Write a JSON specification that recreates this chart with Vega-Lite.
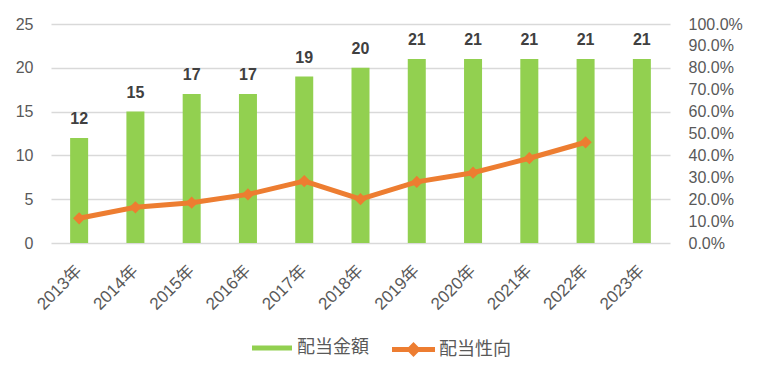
{
  "$schema": "https://vega.github.io/schema/vega-lite/v6.json",
  "width": 619,
  "height": 219,
  "autosize": {"type": "none"},
  "padding": {"left": 51, "top": 24, "right": 88, "bottom": 137},
  "background": "white",
  "config": {
    "view": {"stroke": null},
    "font": "Liberation Sans, Noto Sans CJK JP",
    "axis": {"labelFont": "Liberation Sans, Noto Sans CJK JP", "labelColor": "#595959", "labelFontSize": 16, "domain": false, "ticks": false, "tickSize": 0, "title": null},
    "legend": {"labelFont": "Noto Sans CJK JP", "labelFontSize": 18, "labelColor": "#595959", "title": null}
  },
  "data": {
    "values": [
      {"year": "2013年", "amount": 12, "payout": 0.113},
      {"year": "2014年", "amount": 15, "payout": 0.163},
      {"year": "2015年", "amount": 17, "payout": 0.184},
      {"year": "2016年", "amount": 17, "payout": 0.222},
      {"year": "2017年", "amount": 19, "payout": 0.283},
      {"year": "2018年", "amount": 20, "payout": 0.200},
      {"year": "2019年", "amount": 21, "payout": 0.279},
      {"year": "2020年", "amount": 21, "payout": 0.321},
      {"year": "2021年", "amount": 21, "payout": 0.387},
      {"year": "2022年", "amount": 21, "payout": 0.460},
      {"year": "2023年", "amount": 21, "payout": null}
    ]
  },
  "encoding": {
    "x": {
      "field": "year", "type": "nominal", "sort": null,
      "scale": {"paddingInner": 0.68, "paddingOuter": 0.34},
      "axis": {"labelAngle": -45, "labelAlign": "right", "labelBaseline": "middle", "labelPadding": 25, "labelFontSize": 17, "grid": false}
    }
  },
  "layer": [
    {
      "encoding": {
        "y": {
          "field": "amount", "type": "quantitative",
          "scale": {"domain": [0, 25], "nice": false},
          "axis": {"values": [0, 5, 10, 15, 20, 25], "grid": true, "gridColor": "#d9d9d9", "gridWidth": 1.3, "labelPadding": 18, "orient": "left"}
        }
      },
      "layer": [
        {
          "mark": {"type": "bar", "color": "#92D050"},
          "encoding": {
            "color": {
              "datum": "配当金額",
              "scale": {"domain": ["配当金額"], "range": ["#92D050"]},
              "legend": {"orient": "none", "legendX": 201, "legendY": 304, "symbolType": "M-1,-0.125L1,-0.125L1,0.125L-1,0.125Z", "symbolSize": 1600, "symbolStrokeWidth": 0, "labelOffset": 5}
            }
          }
        },
        {
          "mark": {"type": "text", "baseline": "alphabetic", "dy": -14, "fontWeight": "bold", "fontSize": 16, "color": "#404040", "font": "Liberation Sans"},
          "encoding": {"text": {"field": "amount", "type": "quantitative"}}
        }
      ]
    },
    {
      "transform": [{"filter": "datum.payout != null"}],
      "encoding": {
        "y": {
          "field": "payout", "type": "quantitative",
          "scale": {"domain": [0, 1], "nice": false},
          "axis": {"orient": "right", "values": [0, 0.1, 0.2, 0.3, 0.4, 0.5, 0.6, 0.7, 0.8, 0.9, 1.0], "format": ".1%", "grid": false, "labelPadding": 18}
        }
      },
      "layer": [
        {"mark": {"type": "line", "color": "#ED7D31", "strokeWidth": 5}},
        {
          "mark": {"type": "point", "shape": "diamond", "filled": true, "size": 150, "opacity": 1},
          "encoding": {
            "color": {
              "datum": "配当性向",
              "scale": {"domain": ["配当性向"], "range": ["#ED7D31"]},
              "legend": {"orient": "none", "legendX": 341, "legendY": 304, "symbolType": "M-1,-0.12L-0.23,-0.12L0,-0.35L0.23,-0.12L1,-0.12L1,0.12L0.23,0.12L0,0.35L-0.23,0.12L-1,0.12Z", "symbolSize": 1849, "symbolStrokeWidth": 0, "symbolOpacity": 1, "labelOffset": 4}
            }
          }
        }
      ]
    }
  ],
  "resolve": {"scale": {"y": "independent", "color": "independent"}, "legend": {"color": "independent"}}
}
